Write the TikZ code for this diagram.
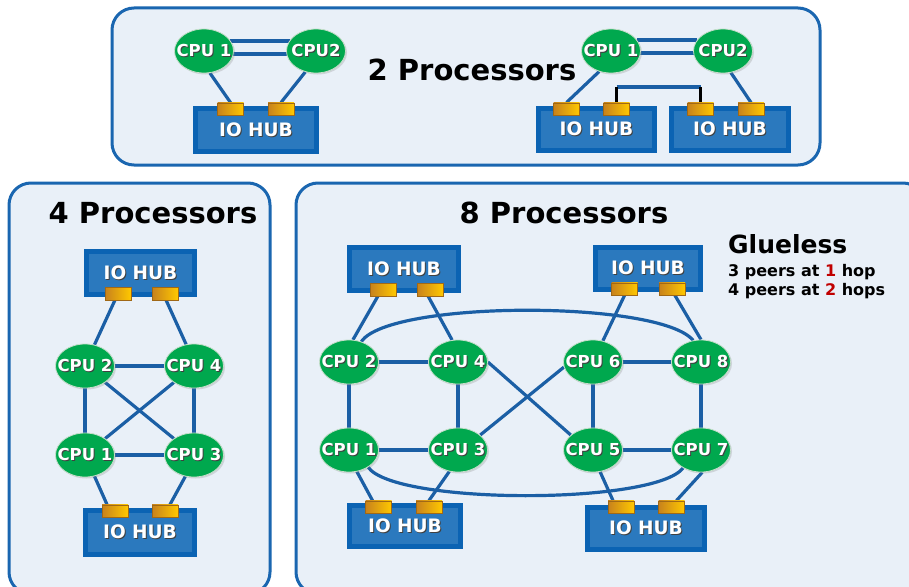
\documentclass[tikz,border=0pt]{standalone}
\usepackage{fontspec}
\setmainfont{DejaVu Sans}
\usetikzlibrary{shapes.geometric,shadows,calc}
\definecolor{panelfill}{HTML}{E9F0F8}
\definecolor{panelline}{HTML}{1A66B0}
\definecolor{connc}{HTML}{1B5FA5}
\definecolor{cpugreen}{HTML}{00A84E}
\definecolor{cpuedge}{HTML}{C5DEC9}
\definecolor{hubouter}{HTML}{0B63B3}
\definecolor{hubinner}{HTML}{2B79BE}
\definecolor{portL}{HTML}{C8821C}
\definecolor{portR}{HTML}{FFC800}
\definecolor{hopred}{HTML}{C00000}
\pgfdeclarelayer{bg}
\pgfdeclarelayer{wires}
\pgfsetlayers{bg,wires,main}
\newcommand\shd[1]{\rlap{\kern1pt\raisebox{-1pt}{\color{black!75}#1}}#1}
\tikzset{
  panel/.style={draw=panelline, line width=3pt, fill=panelfill, rounded corners=22pt},
  cpu/.style={ellipse, fill=cpugreen, draw=cpuedge, line width=0.8pt,
    minimum width=59pt, minimum height=44pt, inner sep=0pt,
    drop shadow={shadow xshift=1.5pt, shadow yshift=-1.5pt, opacity=0.25}},
  cpul/.style={inner sep=0pt, text=white, font=\bfseries\fontsize{16.5}{16.5}\selectfont},
  hub/.style={rectangle, fill=hubinner, draw=hubouter, line width=5pt, inner sep=0pt,
    text=white, font=\bfseries\fontsize{18.5}{18.5}\selectfont,
    drop shadow={shadow xshift=2pt, shadow yshift=-2pt, opacity=0.3}},
  port/.style={rectangle, left color=portL, right color=portR, draw=portL!80!black,
    line width=0.5pt, minimum width=26pt, minimum height=12.5pt, inner sep=0pt},
  wire/.style={draw=connc, line width=3.2pt},
  blackwire/.style={draw=black, line width=3pt},
  ttl/.style={font=\bfseries\fontsize{29}{29}\selectfont, anchor=base, inner sep=0pt},
}
\newcommand\mycpu[3]{\node[cpu] (#1) at (#2) {}; \node[cpul] (#1t) at (#1) {\shd{#3}};}
\newcommand\myhub[4]{\node[hub, minimum width=#3, minimum height=#4] (#1) at (#2) {\shd{IO HUB}};}
\begin{document}
\begin{tikzpicture}[x=1pt,y=-1pt]
\useasboundingbox (0,0) rectangle (909,586);
\begin{pgfonlayer}{bg}
  \fill[white] (0,0) rectangle (909,586);
  \draw[panel] (112,8) rectangle (820,165);
  \draw[panel] (9,183) rectangle (270,594);
  \draw[panel] (296,183) rectangle (925,594);
\end{pgfonlayer}

% titles
\node[ttl] (t2) at (472,80) {2 Processors};
\node[ttl] (t4) at (153,223) {4 Processors};
\node[ttl] (t8) at (564,223) {8 Processors};
\node[anchor=base west, inner sep=0pt, font=\bfseries\fontsize{25}{25}\selectfont] (glu) at (728,253) {Glueless};
\node[anchor=base west, inner sep=0pt, font=\bfseries\fontsize{16}{16}\selectfont] (g1) at (728,276) {3 peers at \textcolor{hopred}{1} hop};
\node[anchor=base west, inner sep=0pt, font=\bfseries\fontsize{16}{16}\selectfont] (g2) at (728,295) {4 peers at \textcolor{hopred}{2} hops};

% ---------- 2 processors, left ----------
\mycpu{a1}{204,51}{CPU 1}
\mycpu{a2}{316,51}{CPU2}
\myhub{ah}{256,130}{121pt}{43pt}
\node[port] (ap1) at (230.5,109) {};
\node[port] (ap2) at (281,109) {};
\begin{pgfonlayer}{wires}
  \draw[wire] ($(a1.east)+(-4,-10)$) -- ($(a2.west)+(4,-10)$);
  \draw[wire] ($(a1.east)+(-2,3)$) -- ($(a2.west)+(2,3)$);
  \draw[wire] (a1.-75) -- (ap1.north);
  \draw[wire] (a2.-117) -- (ap2.north);
\end{pgfonlayer}

% ---------- 2 processors, right ----------
\mycpu{b1}{611,51}{CPU 1}
\mycpu{b2}{723,51}{CPU2}
\myhub{bh1}{596.5,129.5}{116pt}{42pt}
\myhub{bh2}{730,129.5}{117pt}{42pt}
\node[port] (bp1) at (566.5,109) {};
\node[port] (bp2) at (616.5,109) {};
\node[port] (bp3) at (700.5,109) {};
\node[port] (bp4) at (751,109) {};
\coordinate (bk) at (0,87);
\begin{pgfonlayer}{wires}
  \draw[wire] ($(b1.east)+(-4,-11)$) -- ($(b2.west)+(4,-11)$);
  \draw[wire] ($(b1.east)+(-2,2)$) -- ($(b2.west)+(2,2)$);
  \draw[wire] (b1.-120) -- (bp1.north);
  \draw[wire] (b2.-70) -- (bp4.north);
  \draw[wire] (bp2.north |- bk) -- (bp3.north |- bk);
  \draw[blackwire] (bp2.north) -- (bp2.north |- bk);
  \draw[blackwire] (bp3.north) -- (bp3.north |- bk);
\end{pgfonlayer}

% ---------- 4 processors ----------
\myhub{fh1}{140.5,273}{108pt}{43pt}
\myhub{fh2}{140,532.5}{109pt}{44pt}
\node[port] (fp1) at (118,293.5) {};
\node[port] (fp2) at (165,293.5) {};
\node[port] (fp3) at (115,511) {};
\node[port] (fp4) at (165,511) {};
\mycpu{f2}{85,366}{CPU 2}
\mycpu{f4}{194,366}{CPU 4}
\mycpu{f1}{85,455}{CPU 1}
\mycpu{f3}{194,455}{CPU 3}
\begin{pgfonlayer}{wires}
  \draw[wire] ([xshift=-3pt]fp1.south) -- (f2.66);
  \draw[wire] ([xshift=1pt]fp2.south) -- (f4.110);
  \draw[wire] (f2) -- (f4);
  \draw[wire] (f1) -- (f3);
  \draw[wire] (f2) -- (f1);
  \draw[wire] (f4) -- (f3);
  \draw[wire] (f2) -- (f3);
  \draw[wire] (f4) -- (f1);
  \draw[wire] (f1.-66) -- ([xshift=-8pt]fp3.north);
  \draw[wire] (f3.-112) -- ([xshift=5pt]fp4.north);
\end{pgfonlayer}

% ---------- 8 processors ----------
\myhub{eh1}{404,269}{109pt}{43pt}
\myhub{eh2}{648,268.5}{105pt}{42pt}
\myhub{eh3}{405,526}{111pt}{41pt}
\myhub{eh4}{646,528.5}{117pt}{42pt}
\node[port] (ep1) at (383,289.5) {};
\node[port] (ep2) at (430,289.5) {};
\node[port] (ep3) at (624.5,289) {};
\node[port] (ep4) at (672,289) {};
\node[port] (ep5) at (378.5,507) {};
\node[port] (ep6) at (429,507) {};
\node[port] (ep7) at (621,507) {};
\node[port] (ep8) at (671.5,507) {};
\mycpu{e2}{349,362}{CPU 2}
\mycpu{e4}{458,362}{CPU 4}
\mycpu{e1}{349,450}{CPU 1}
\mycpu{e3}{458,450}{CPU 3}
\mycpu{e6}{593,362}{CPU 6}
\mycpu{e8}{701,362}{CPU 8}
\mycpu{e5}{593,450}{CPU 5}
\mycpu{e7}{701,450}{CPU 7}
\begin{pgfonlayer}{wires}
  \draw[wire] ([xshift=-5pt]ep1.south) -- (e2.80);
  \draw[wire] ([xshift=-2pt]ep2.south) -- (e4.105);
  \draw[wire] (ep3.south) -- (e6.65);
  \draw[wire] ([xshift=3pt]ep4.south) -- (e8.90);
  \draw[wire] (e2) -- (e4);
  \draw[wire] (e1) -- (e3);
  \draw[wire] (e2) -- (e1);
  \draw[wire] (e4) -- (e3);
  \draw[wire] (e6) -- (e8);
  \draw[wire] (e5) -- (e7);
  \draw[wire] (e6) -- (e5);
  \draw[wire] (e8) -- (e7);
  \draw[wire] (e4.east) -- (e5.146);
  \draw[wire] (e3.34) -- (e6.190);
  \draw[wire] (e1.-70) -- ([xshift=-6pt]ep5.north);
  \draw[wire] (e3.-112) -- (ep6.north);
  \draw[wire] (e5.-72) -- ([xshift=-8pt]ep7.north);
  \draw[wire] (e7.-87) -- ([xshift=5pt]ep8.north);
  \draw[wire] (e2.59) .. controls (390,300) and (660,300) .. (e8.110);
  \draw[wire] (e1.-42) .. controls (395,505) and (655,505) .. (e7.-135);
\end{pgfonlayer}
\end{tikzpicture}
\end{document}
